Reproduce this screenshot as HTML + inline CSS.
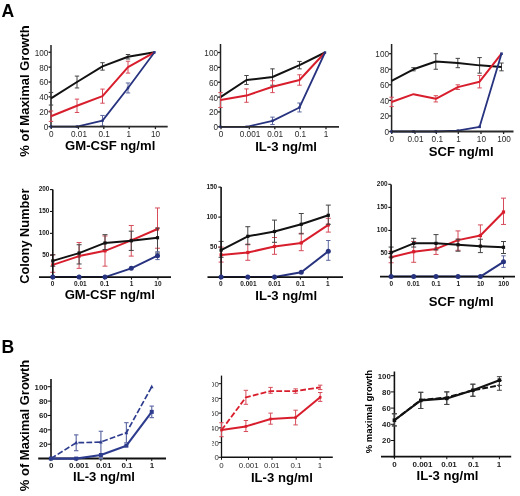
<!DOCTYPE html>
<html><head><meta charset="utf-8"><style>
html,body{margin:0;padding:0;background:#fff;}
svg{display:block;will-change:transform;font-family:"Liberation Sans", sans-serif;}
</style></head><body>
<svg width="520" height="496" viewBox="0 0 520 496">
<rect width="520" height="496" fill="#fff"/>
<line x1="48.50" y1="126.60" x2="51.00" y2="126.60" stroke="#222" stroke-width="1.3" />
<text x="48.30" y="130.05" font-size="8.2" text-anchor="end" font-weight="normal" fill="#2a2a2a" >0</text>
<line x1="48.50" y1="111.74" x2="51.00" y2="111.74" stroke="#222" stroke-width="1.3" />
<text x="48.30" y="115.19" font-size="8.2" text-anchor="end" font-weight="normal" fill="#2a2a2a" >20</text>
<line x1="48.50" y1="96.88" x2="51.00" y2="96.88" stroke="#222" stroke-width="1.3" />
<text x="48.30" y="100.33" font-size="8.2" text-anchor="end" font-weight="normal" fill="#2a2a2a" >40</text>
<line x1="48.50" y1="82.02" x2="51.00" y2="82.02" stroke="#222" stroke-width="1.3" />
<text x="48.30" y="85.47" font-size="8.2" text-anchor="end" font-weight="normal" fill="#2a2a2a" >60</text>
<line x1="48.50" y1="67.16" x2="51.00" y2="67.16" stroke="#222" stroke-width="1.3" />
<text x="48.30" y="70.61" font-size="8.2" text-anchor="end" font-weight="normal" fill="#2a2a2a" >80</text>
<line x1="48.50" y1="52.30" x2="51.00" y2="52.30" stroke="#222" stroke-width="1.3" />
<text x="48.30" y="55.75" font-size="8.2" text-anchor="end" font-weight="normal" fill="#2a2a2a" >100</text>
<line x1="51.20" y1="126.60" x2="51.20" y2="129.10" stroke="#222" stroke-width="1.3" />
<text x="51.20" y="136.80" font-size="8.2" text-anchor="middle" font-weight="normal" fill="#2a2a2a" >0</text>
<line x1="78.40" y1="126.60" x2="78.40" y2="129.10" stroke="#222" stroke-width="1.3" />
<text x="79.00" y="136.80" font-size="8.2" text-anchor="middle" font-weight="normal" fill="#2a2a2a" >0.01</text>
<line x1="103.80" y1="126.60" x2="103.80" y2="129.10" stroke="#222" stroke-width="1.3" />
<text x="104.20" y="136.80" font-size="8.2" text-anchor="middle" font-weight="normal" fill="#2a2a2a" >0.1</text>
<line x1="129.20" y1="126.60" x2="129.20" y2="129.10" stroke="#222" stroke-width="1.3" />
<text x="128.80" y="136.80" font-size="8.2" text-anchor="middle" font-weight="normal" fill="#2a2a2a" >1</text>
<line x1="155.40" y1="126.60" x2="155.40" y2="129.10" stroke="#222" stroke-width="1.3" />
<text x="155.60" y="136.80" font-size="8.2" text-anchor="middle" font-weight="normal" fill="#2a2a2a" >10</text>
<line x1="51.00" y1="45.00" x2="51.00" y2="127.50" stroke="#222" stroke-width="1.5" />
<line x1="51.00" y1="105.05" x2="51.00" y2="92.42" stroke="#444444" stroke-width="1" />
<line x1="48.80" y1="105.05" x2="53.20" y2="105.05" stroke="#444444" stroke-width="1" />
<line x1="48.80" y1="92.42" x2="53.20" y2="92.42" stroke="#444444" stroke-width="1" />
<line x1="77.00" y1="87.96" x2="77.00" y2="76.08" stroke="#444444" stroke-width="1" />
<line x1="74.80" y1="87.96" x2="79.20" y2="87.96" stroke="#444444" stroke-width="1" />
<line x1="74.80" y1="76.08" x2="79.20" y2="76.08" stroke="#444444" stroke-width="1" />
<line x1="102.50" y1="70.13" x2="102.50" y2="62.70" stroke="#444444" stroke-width="1" />
<line x1="100.30" y1="70.13" x2="104.70" y2="70.13" stroke="#444444" stroke-width="1" />
<line x1="100.30" y1="62.70" x2="104.70" y2="62.70" stroke="#444444" stroke-width="1" />
<line x1="128.00" y1="58.99" x2="128.00" y2="54.53" stroke="#444444" stroke-width="1" />
<line x1="125.80" y1="58.99" x2="130.20" y2="58.99" stroke="#444444" stroke-width="1" />
<line x1="125.80" y1="54.53" x2="130.20" y2="54.53" stroke="#444444" stroke-width="1" />
<path d="M51.00,98.37 L77.00,82.02 L102.50,66.42 L128.00,56.76 L154.50,52.30" fill="none" stroke="#121212" stroke-width="2" stroke-linejoin="round" />
<line x1="51.00" y1="121.40" x2="51.00" y2="111.00" stroke="#d64c5a" stroke-width="1" />
<line x1="48.80" y1="121.40" x2="53.20" y2="121.40" stroke="#d64c5a" stroke-width="1" />
<line x1="48.80" y1="111.00" x2="53.20" y2="111.00" stroke="#d64c5a" stroke-width="1" />
<line x1="77.00" y1="112.48" x2="77.00" y2="99.11" stroke="#d64c5a" stroke-width="1" />
<line x1="74.80" y1="112.48" x2="79.20" y2="112.48" stroke="#d64c5a" stroke-width="1" />
<line x1="74.80" y1="99.11" x2="79.20" y2="99.11" stroke="#d64c5a" stroke-width="1" />
<line x1="102.50" y1="103.20" x2="102.50" y2="89.08" stroke="#d64c5a" stroke-width="1" />
<line x1="100.30" y1="103.20" x2="104.70" y2="103.20" stroke="#d64c5a" stroke-width="1" />
<line x1="100.30" y1="89.08" x2="104.70" y2="89.08" stroke="#d64c5a" stroke-width="1" />
<line x1="128.00" y1="73.10" x2="128.00" y2="61.22" stroke="#d64c5a" stroke-width="1" />
<line x1="125.80" y1="73.10" x2="130.20" y2="73.10" stroke="#d64c5a" stroke-width="1" />
<line x1="125.80" y1="61.22" x2="130.20" y2="61.22" stroke="#d64c5a" stroke-width="1" />
<path d="M51.00,116.20 L77.00,105.80 L102.50,96.14 L128.00,67.16 L154.50,52.30" fill="none" stroke="#d81e2d" stroke-width="2" stroke-linejoin="round" />
<line x1="102.50" y1="125.86" x2="102.50" y2="115.45" stroke="#5d679f" stroke-width="1" />
<line x1="100.30" y1="125.86" x2="104.70" y2="125.86" stroke="#5d679f" stroke-width="1" />
<line x1="100.30" y1="115.45" x2="104.70" y2="115.45" stroke="#5d679f" stroke-width="1" />
<line x1="128.00" y1="92.94" x2="128.00" y2="82.99" stroke="#5d679f" stroke-width="1" />
<line x1="125.80" y1="92.94" x2="130.20" y2="92.94" stroke="#5d679f" stroke-width="1" />
<line x1="125.80" y1="82.99" x2="130.20" y2="82.99" stroke="#5d679f" stroke-width="1" />
<path d="M51.00,126.60 L77.00,126.60 L102.50,120.66 L128.00,87.96 L154.50,52.30" fill="none" stroke="#27337f" stroke-width="1.8" stroke-linejoin="round" />
<rect x="49.80" y="125.40" width="2.40" height="2.40" fill="#27337f"/>
<rect x="75.80" y="125.40" width="2.40" height="2.40" fill="#27337f"/>
<rect x="101.30" y="119.46" width="2.40" height="2.40" fill="#27337f"/>
<rect x="126.80" y="86.76" width="2.40" height="2.40" fill="#27337f"/>
<rect x="153.30" y="51.10" width="2.40" height="2.40" fill="#27337f"/>
<line x1="51.00" y1="126.60" x2="167.70" y2="126.60" stroke="#2a2a2a" stroke-width="1.8" />
<text x="110.20" y="149.80" font-size="13.1" text-anchor="middle" font-weight="bold" fill="#000" >GM-CSF ng/ml</text>
<line x1="218.00" y1="126.80" x2="220.50" y2="126.80" stroke="#222" stroke-width="1.3" />
<text x="218.00" y="130.25" font-size="8.2" text-anchor="end" font-weight="normal" fill="#2a2a2a" >0</text>
<line x1="218.00" y1="111.94" x2="220.50" y2="111.94" stroke="#222" stroke-width="1.3" />
<text x="218.00" y="115.39" font-size="8.2" text-anchor="end" font-weight="normal" fill="#2a2a2a" >20</text>
<line x1="218.00" y1="97.08" x2="220.50" y2="97.08" stroke="#222" stroke-width="1.3" />
<text x="218.00" y="100.53" font-size="8.2" text-anchor="end" font-weight="normal" fill="#2a2a2a" >40</text>
<line x1="218.00" y1="82.22" x2="220.50" y2="82.22" stroke="#222" stroke-width="1.3" />
<text x="218.00" y="85.67" font-size="8.2" text-anchor="end" font-weight="normal" fill="#2a2a2a" >60</text>
<line x1="218.00" y1="67.36" x2="220.50" y2="67.36" stroke="#222" stroke-width="1.3" />
<text x="218.00" y="70.81" font-size="8.2" text-anchor="end" font-weight="normal" fill="#2a2a2a" >80</text>
<line x1="218.00" y1="52.50" x2="220.50" y2="52.50" stroke="#222" stroke-width="1.3" />
<text x="218.00" y="55.95" font-size="8.2" text-anchor="end" font-weight="normal" fill="#2a2a2a" >100</text>
<line x1="221.00" y1="126.80" x2="221.00" y2="129.30" stroke="#222" stroke-width="1.3" />
<text x="221.00" y="137.00" font-size="8.2" text-anchor="middle" font-weight="normal" fill="#2a2a2a" >0</text>
<line x1="249.30" y1="126.80" x2="249.30" y2="129.30" stroke="#222" stroke-width="1.3" />
<text x="250.00" y="137.00" font-size="8.2" text-anchor="middle" font-weight="normal" fill="#2a2a2a" >0.001</text>
<line x1="274.80" y1="126.80" x2="274.80" y2="129.30" stroke="#222" stroke-width="1.3" />
<text x="275.10" y="137.00" font-size="8.2" text-anchor="middle" font-weight="normal" fill="#2a2a2a" >0.01</text>
<line x1="300.30" y1="126.80" x2="300.30" y2="129.30" stroke="#222" stroke-width="1.3" />
<text x="300.40" y="137.00" font-size="8.2" text-anchor="middle" font-weight="normal" fill="#2a2a2a" >0.1</text>
<line x1="326.00" y1="126.80" x2="326.00" y2="129.30" stroke="#222" stroke-width="1.3" />
<text x="326.00" y="137.00" font-size="8.2" text-anchor="middle" font-weight="normal" fill="#2a2a2a" >1</text>
<line x1="220.50" y1="44.00" x2="220.50" y2="127.70" stroke="#222" stroke-width="1.5" />
<line x1="246.50" y1="84.45" x2="246.50" y2="75.53" stroke="#444444" stroke-width="1" />
<line x1="244.30" y1="84.45" x2="248.70" y2="84.45" stroke="#444444" stroke-width="1" />
<line x1="244.30" y1="75.53" x2="248.70" y2="75.53" stroke="#444444" stroke-width="1" />
<line x1="272.50" y1="85.19" x2="272.50" y2="68.85" stroke="#444444" stroke-width="1" />
<line x1="270.30" y1="85.19" x2="274.70" y2="85.19" stroke="#444444" stroke-width="1" />
<line x1="270.30" y1="68.85" x2="274.70" y2="68.85" stroke="#444444" stroke-width="1" />
<line x1="299.50" y1="68.85" x2="299.50" y2="61.42" stroke="#444444" stroke-width="1" />
<line x1="297.30" y1="68.85" x2="301.70" y2="68.85" stroke="#444444" stroke-width="1" />
<line x1="297.30" y1="61.42" x2="301.70" y2="61.42" stroke="#444444" stroke-width="1" />
<path d="M220.50,97.08 L246.50,79.99 L272.50,77.02 L299.50,65.13 L325.00,52.50" fill="none" stroke="#121212" stroke-width="2" stroke-linejoin="round" />
<line x1="220.50" y1="107.48" x2="220.50" y2="92.62" stroke="#d64c5a" stroke-width="1" />
<line x1="218.30" y1="107.48" x2="222.70" y2="107.48" stroke="#d64c5a" stroke-width="1" />
<line x1="218.30" y1="92.62" x2="222.70" y2="92.62" stroke="#d64c5a" stroke-width="1" />
<line x1="246.50" y1="102.28" x2="246.50" y2="88.91" stroke="#d64c5a" stroke-width="1" />
<line x1="244.30" y1="102.28" x2="248.70" y2="102.28" stroke="#d64c5a" stroke-width="1" />
<line x1="244.30" y1="88.91" x2="248.70" y2="88.91" stroke="#d64c5a" stroke-width="1" />
<line x1="272.50" y1="92.62" x2="272.50" y2="80.73" stroke="#d64c5a" stroke-width="1" />
<line x1="270.30" y1="92.62" x2="274.70" y2="92.62" stroke="#d64c5a" stroke-width="1" />
<line x1="270.30" y1="80.73" x2="274.70" y2="80.73" stroke="#d64c5a" stroke-width="1" />
<line x1="299.50" y1="85.19" x2="299.50" y2="74.79" stroke="#d64c5a" stroke-width="1" />
<line x1="297.30" y1="85.19" x2="301.70" y2="85.19" stroke="#d64c5a" stroke-width="1" />
<line x1="297.30" y1="74.79" x2="301.70" y2="74.79" stroke="#d64c5a" stroke-width="1" />
<path d="M220.50,100.05 L246.50,95.59 L272.50,86.68 L299.50,79.99 L325.00,52.50" fill="none" stroke="#d81e2d" stroke-width="2" stroke-linejoin="round" />
<line x1="272.50" y1="124.57" x2="272.50" y2="117.14" stroke="#5d679f" stroke-width="1" />
<line x1="270.30" y1="124.57" x2="274.70" y2="124.57" stroke="#5d679f" stroke-width="1" />
<line x1="270.30" y1="117.14" x2="274.70" y2="117.14" stroke="#5d679f" stroke-width="1" />
<line x1="299.50" y1="111.94" x2="299.50" y2="103.02" stroke="#5d679f" stroke-width="1" />
<line x1="297.30" y1="111.94" x2="301.70" y2="111.94" stroke="#5d679f" stroke-width="1" />
<line x1="297.30" y1="103.02" x2="301.70" y2="103.02" stroke="#5d679f" stroke-width="1" />
<path d="M220.50,126.80 L246.50,126.80 L272.50,120.86 L299.50,107.48 L325.00,52.50" fill="none" stroke="#27337f" stroke-width="1.8" stroke-linejoin="round" />
<rect x="219.30" y="125.60" width="2.40" height="2.40" fill="#27337f"/>
<rect x="245.30" y="125.60" width="2.40" height="2.40" fill="#27337f"/>
<rect x="271.30" y="119.66" width="2.40" height="2.40" fill="#27337f"/>
<rect x="298.30" y="106.28" width="2.40" height="2.40" fill="#27337f"/>
<rect x="323.80" y="51.30" width="2.40" height="2.40" fill="#27337f"/>
<line x1="220.50" y1="126.80" x2="339.00" y2="126.80" stroke="#2a2a2a" stroke-width="1.8" />
<text x="286.10" y="151.30" font-size="13.1" text-anchor="middle" font-weight="bold" fill="#000" >IL-3 ng/ml</text>
<line x1="389.10" y1="131.50" x2="391.60" y2="131.50" stroke="#222" stroke-width="1.3" />
<text x="389.00" y="134.95" font-size="8.2" text-anchor="end" font-weight="normal" fill="#2a2a2a" >0</text>
<line x1="389.10" y1="115.94" x2="391.60" y2="115.94" stroke="#222" stroke-width="1.3" />
<text x="389.00" y="119.39" font-size="8.2" text-anchor="end" font-weight="normal" fill="#2a2a2a" >20</text>
<line x1="389.10" y1="100.38" x2="391.60" y2="100.38" stroke="#222" stroke-width="1.3" />
<text x="389.00" y="103.83" font-size="8.2" text-anchor="end" font-weight="normal" fill="#2a2a2a" >40</text>
<line x1="389.10" y1="84.82" x2="391.60" y2="84.82" stroke="#222" stroke-width="1.3" />
<text x="389.00" y="88.27" font-size="8.2" text-anchor="end" font-weight="normal" fill="#2a2a2a" >60</text>
<line x1="389.10" y1="69.26" x2="391.60" y2="69.26" stroke="#222" stroke-width="1.3" />
<text x="389.00" y="72.71" font-size="8.2" text-anchor="end" font-weight="normal" fill="#2a2a2a" >80</text>
<line x1="389.10" y1="53.70" x2="391.60" y2="53.70" stroke="#222" stroke-width="1.3" />
<text x="389.00" y="57.15" font-size="8.2" text-anchor="end" font-weight="normal" fill="#2a2a2a" >100</text>
<line x1="391.75" y1="131.50" x2="391.75" y2="134.00" stroke="#222" stroke-width="1.3" />
<text x="391.75" y="141.80" font-size="8.2" text-anchor="middle" font-weight="normal" fill="#2a2a2a" >0</text>
<line x1="415.00" y1="131.50" x2="415.00" y2="134.00" stroke="#222" stroke-width="1.3" />
<text x="415.50" y="141.80" font-size="8.2" text-anchor="middle" font-weight="normal" fill="#2a2a2a" >0.01</text>
<line x1="436.30" y1="131.50" x2="436.30" y2="134.00" stroke="#222" stroke-width="1.3" />
<text x="437.30" y="141.80" font-size="8.2" text-anchor="middle" font-weight="normal" fill="#2a2a2a" >0.1</text>
<line x1="458.30" y1="131.50" x2="458.30" y2="134.00" stroke="#222" stroke-width="1.3" />
<text x="458.50" y="141.80" font-size="8.2" text-anchor="middle" font-weight="normal" fill="#2a2a2a" >1</text>
<line x1="481.00" y1="131.50" x2="481.00" y2="134.00" stroke="#222" stroke-width="1.3" />
<text x="481.40" y="141.80" font-size="8.2" text-anchor="middle" font-weight="normal" fill="#2a2a2a" >10</text>
<line x1="503.60" y1="131.50" x2="503.60" y2="134.00" stroke="#222" stroke-width="1.3" />
<text x="504.10" y="141.80" font-size="8.2" text-anchor="middle" font-weight="normal" fill="#2a2a2a" >100</text>
<line x1="391.60" y1="44.00" x2="391.60" y2="132.40" stroke="#222" stroke-width="1.5" />
<line x1="413.50" y1="70.82" x2="413.50" y2="67.70" stroke="#444444" stroke-width="1" />
<line x1="411.30" y1="70.82" x2="415.70" y2="70.82" stroke="#444444" stroke-width="1" />
<line x1="411.30" y1="67.70" x2="415.70" y2="67.70" stroke="#444444" stroke-width="1" />
<line x1="435.80" y1="69.26" x2="435.80" y2="53.70" stroke="#444444" stroke-width="1" />
<line x1="433.60" y1="69.26" x2="438.00" y2="69.26" stroke="#444444" stroke-width="1" />
<line x1="433.60" y1="53.70" x2="438.00" y2="53.70" stroke="#444444" stroke-width="1" />
<line x1="457.80" y1="67.70" x2="457.80" y2="58.37" stroke="#444444" stroke-width="1" />
<line x1="455.60" y1="67.70" x2="460.00" y2="67.70" stroke="#444444" stroke-width="1" />
<line x1="455.60" y1="58.37" x2="460.00" y2="58.37" stroke="#444444" stroke-width="1" />
<line x1="479.60" y1="73.15" x2="479.60" y2="57.59" stroke="#444444" stroke-width="1" />
<line x1="477.40" y1="73.15" x2="481.80" y2="73.15" stroke="#444444" stroke-width="1" />
<line x1="477.40" y1="57.59" x2="481.80" y2="57.59" stroke="#444444" stroke-width="1" />
<line x1="501.50" y1="70.82" x2="501.50" y2="63.04" stroke="#444444" stroke-width="1" />
<line x1="499.30" y1="70.82" x2="503.70" y2="70.82" stroke="#444444" stroke-width="1" />
<line x1="499.30" y1="63.04" x2="503.70" y2="63.04" stroke="#444444" stroke-width="1" />
<path d="M391.60,80.93 L413.50,69.26 L435.80,61.48 L457.80,63.04 L479.60,65.37 L501.50,66.93" fill="none" stroke="#121212" stroke-width="2" stroke-linejoin="round" />
<line x1="391.60" y1="106.60" x2="391.60" y2="97.27" stroke="#d64c5a" stroke-width="1" />
<line x1="389.40" y1="106.60" x2="393.80" y2="106.60" stroke="#d64c5a" stroke-width="1" />
<line x1="389.40" y1="97.27" x2="393.80" y2="97.27" stroke="#d64c5a" stroke-width="1" />
<line x1="435.80" y1="101.94" x2="435.80" y2="95.71" stroke="#d64c5a" stroke-width="1" />
<line x1="433.60" y1="101.94" x2="438.00" y2="101.94" stroke="#d64c5a" stroke-width="1" />
<line x1="433.60" y1="95.71" x2="438.00" y2="95.71" stroke="#d64c5a" stroke-width="1" />
<line x1="457.80" y1="89.49" x2="457.80" y2="84.82" stroke="#d64c5a" stroke-width="1" />
<line x1="455.60" y1="89.49" x2="460.00" y2="89.49" stroke="#d64c5a" stroke-width="1" />
<line x1="455.60" y1="84.82" x2="460.00" y2="84.82" stroke="#d64c5a" stroke-width="1" />
<line x1="479.60" y1="87.93" x2="479.60" y2="75.48" stroke="#d64c5a" stroke-width="1" />
<line x1="477.40" y1="87.93" x2="481.80" y2="87.93" stroke="#d64c5a" stroke-width="1" />
<line x1="477.40" y1="75.48" x2="481.80" y2="75.48" stroke="#d64c5a" stroke-width="1" />
<path d="M391.60,101.94 L413.50,94.16 L435.80,98.82 L457.80,87.15 L479.60,81.71 L501.50,53.70" fill="none" stroke="#d81e2d" stroke-width="2" stroke-linejoin="round" />
<path d="M391.60,131.50 L413.50,131.50 L435.80,131.50 L457.80,130.72 L479.60,126.83 L501.50,53.70" fill="none" stroke="#27337f" stroke-width="1.8" stroke-linejoin="round" />
<rect x="390.30" y="130.20" width="2.60" height="2.60" fill="#27337f"/>
<rect x="412.20" y="130.20" width="2.60" height="2.60" fill="#27337f"/>
<rect x="434.50" y="130.20" width="2.60" height="2.60" fill="#27337f"/>
<rect x="456.50" y="129.42" width="2.60" height="2.60" fill="#27337f"/>
<rect x="478.30" y="125.53" width="2.60" height="2.60" fill="#27337f"/>
<rect x="500.20" y="52.40" width="2.60" height="2.60" fill="#27337f"/>
<line x1="391.60" y1="131.50" x2="513.50" y2="131.50" stroke="#2a2a2a" stroke-width="1.8" />
<text x="461.20" y="156.10" font-size="13.1" text-anchor="middle" font-weight="bold" fill="#000" >SCF ng/ml</text>
<line x1="50.00" y1="277.10" x2="52.80" y2="277.10" stroke="#111" stroke-width="1.1" />
<line x1="50.00" y1="255.23" x2="52.80" y2="255.23" stroke="#111" stroke-width="1.1" />
<text x="49.30" y="256.93" font-size="6.4" text-anchor="end" font-weight="bold" fill="#1a1a1a" >50</text>
<line x1="50.00" y1="233.35" x2="52.80" y2="233.35" stroke="#111" stroke-width="1.1" />
<text x="49.30" y="235.05" font-size="6.4" text-anchor="end" font-weight="bold" fill="#1a1a1a" >100</text>
<line x1="50.00" y1="211.48" x2="52.80" y2="211.48" stroke="#111" stroke-width="1.1" />
<text x="49.30" y="213.18" font-size="6.4" text-anchor="end" font-weight="bold" fill="#1a1a1a" >150</text>
<line x1="50.00" y1="189.60" x2="52.80" y2="189.60" stroke="#111" stroke-width="1.1" />
<text x="49.30" y="191.30" font-size="6.4" text-anchor="end" font-weight="bold" fill="#1a1a1a" >200</text>
<line x1="52.60" y1="277.10" x2="52.60" y2="279.60" stroke="#111" stroke-width="1.1" />
<text x="52.60" y="285.50" font-size="6.5" text-anchor="middle" font-weight="bold" fill="#1a1a1a" >0</text>
<line x1="80.30" y1="277.10" x2="80.30" y2="279.60" stroke="#111" stroke-width="1.1" />
<text x="80.30" y="285.50" font-size="6.5" text-anchor="middle" font-weight="bold" fill="#1a1a1a" >0.01</text>
<line x1="104.60" y1="277.10" x2="104.60" y2="279.60" stroke="#111" stroke-width="1.1" />
<text x="104.60" y="285.50" font-size="6.5" text-anchor="middle" font-weight="bold" fill="#1a1a1a" >0.1</text>
<line x1="131.50" y1="277.10" x2="131.50" y2="279.60" stroke="#111" stroke-width="1.1" />
<text x="131.50" y="285.50" font-size="6.5" text-anchor="middle" font-weight="bold" fill="#1a1a1a" >1</text>
<line x1="157.90" y1="277.10" x2="157.90" y2="279.60" stroke="#111" stroke-width="1.1" />
<text x="157.90" y="285.50" font-size="6.5" text-anchor="middle" font-weight="bold" fill="#1a1a1a" >10</text>
<line x1="52.80" y1="272.29" x2="52.80" y2="254.79" stroke="#d64c5a" stroke-width="1" />
<line x1="50.30" y1="272.29" x2="55.30" y2="272.29" stroke="#d64c5a" stroke-width="1" />
<line x1="50.30" y1="254.79" x2="55.30" y2="254.79" stroke="#d64c5a" stroke-width="1" />
<line x1="79.10" y1="268.35" x2="79.10" y2="242.54" stroke="#d64c5a" stroke-width="1" />
<line x1="76.60" y1="268.35" x2="81.60" y2="268.35" stroke="#d64c5a" stroke-width="1" />
<line x1="76.60" y1="242.54" x2="81.60" y2="242.54" stroke="#d64c5a" stroke-width="1" />
<line x1="105.00" y1="266.16" x2="105.00" y2="235.98" stroke="#d64c5a" stroke-width="1" />
<line x1="102.50" y1="266.16" x2="107.50" y2="266.16" stroke="#d64c5a" stroke-width="1" />
<line x1="102.50" y1="235.98" x2="107.50" y2="235.98" stroke="#d64c5a" stroke-width="1" />
<line x1="131.25" y1="256.10" x2="131.25" y2="225.48" stroke="#d64c5a" stroke-width="1" />
<line x1="128.75" y1="256.10" x2="133.75" y2="256.10" stroke="#d64c5a" stroke-width="1" />
<line x1="128.75" y1="225.48" x2="133.75" y2="225.48" stroke="#d64c5a" stroke-width="1" />
<line x1="157.50" y1="248.23" x2="157.50" y2="207.98" stroke="#d64c5a" stroke-width="1" />
<line x1="155.00" y1="248.23" x2="160.00" y2="248.23" stroke="#d64c5a" stroke-width="1" />
<line x1="155.00" y1="207.98" x2="160.00" y2="207.98" stroke="#d64c5a" stroke-width="1" />
<path d="M52.80,264.85 L79.10,256.10 L105.00,250.85 L131.25,240.35 L157.50,228.98" fill="none" stroke="#d81e2d" stroke-width="2" stroke-linejoin="round" />
<rect x="51.20" y="263.25" width="3.20" height="3.20" fill="#d81e2d"/>
<rect x="77.50" y="254.50" width="3.20" height="3.20" fill="#d81e2d"/>
<rect x="103.40" y="249.25" width="3.20" height="3.20" fill="#d81e2d"/>
<rect x="129.65" y="238.75" width="3.20" height="3.20" fill="#d81e2d"/>
<rect x="155.90" y="227.38" width="3.20" height="3.20" fill="#d81e2d"/>
<line x1="52.80" y1="266.16" x2="52.80" y2="254.79" stroke="#444444" stroke-width="1" />
<line x1="50.30" y1="266.16" x2="55.30" y2="266.16" stroke="#444444" stroke-width="1" />
<line x1="50.30" y1="254.79" x2="55.30" y2="254.79" stroke="#444444" stroke-width="1" />
<line x1="79.10" y1="263.98" x2="79.10" y2="244.73" stroke="#444444" stroke-width="1" />
<line x1="76.60" y1="263.98" x2="81.60" y2="263.98" stroke="#444444" stroke-width="1" />
<line x1="76.60" y1="244.73" x2="81.60" y2="244.73" stroke="#444444" stroke-width="1" />
<line x1="105.00" y1="249.54" x2="105.00" y2="234.66" stroke="#444444" stroke-width="1" />
<line x1="102.50" y1="249.54" x2="107.50" y2="249.54" stroke="#444444" stroke-width="1" />
<line x1="102.50" y1="234.66" x2="107.50" y2="234.66" stroke="#444444" stroke-width="1" />
<line x1="131.25" y1="250.41" x2="131.25" y2="231.16" stroke="#444444" stroke-width="1" />
<line x1="128.75" y1="250.41" x2="133.75" y2="250.41" stroke="#444444" stroke-width="1" />
<line x1="128.75" y1="231.16" x2="133.75" y2="231.16" stroke="#444444" stroke-width="1" />
<line x1="157.50" y1="253.04" x2="157.50" y2="228.10" stroke="#444444" stroke-width="1" />
<line x1="155.00" y1="253.04" x2="160.00" y2="253.04" stroke="#444444" stroke-width="1" />
<line x1="155.00" y1="228.10" x2="160.00" y2="228.10" stroke="#444444" stroke-width="1" />
<path d="M52.80,260.91 L79.10,253.04 L105.00,242.98 L131.25,240.79 L157.50,237.73" fill="none" stroke="#121212" stroke-width="1.9" stroke-linejoin="round" />
<rect x="51.20" y="259.31" width="3.20" height="3.20" fill="#121212"/>
<rect x="77.50" y="251.44" width="3.20" height="3.20" fill="#121212"/>
<rect x="103.40" y="241.38" width="3.20" height="3.20" fill="#121212"/>
<rect x="129.65" y="239.19" width="3.20" height="3.20" fill="#121212"/>
<rect x="155.90" y="236.13" width="3.20" height="3.20" fill="#121212"/>
<line x1="157.50" y1="259.60" x2="157.50" y2="251.73" stroke="#5d679f" stroke-width="1" />
<line x1="155.30" y1="259.60" x2="159.70" y2="259.60" stroke="#5d679f" stroke-width="1" />
<line x1="155.30" y1="251.73" x2="159.70" y2="251.73" stroke="#5d679f" stroke-width="1" />
<path d="M52.80,277.10 L79.10,277.10 L105.00,277.10 L131.25,268.35 L157.50,255.66" fill="none" stroke="#27337f" stroke-width="2" stroke-linejoin="round" />
<line x1="39.00" y1="277.10" x2="171.00" y2="277.10" stroke="#111" stroke-width="1.9" />
<line x1="52.80" y1="189.50" x2="52.80" y2="278.05" stroke="#111" stroke-width="1.6" />
<circle cx="52.80" cy="277.10" r="2.50" fill="#27337f"/>
<circle cx="79.10" cy="277.10" r="2.50" fill="#27337f"/>
<circle cx="105.00" cy="277.10" r="2.50" fill="#27337f"/>
<circle cx="131.25" cy="268.35" r="2.50" fill="#27337f"/>
<circle cx="157.50" cy="255.66" r="2.50" fill="#27337f"/>
<text x="109.75" y="299.20" font-size="13.1" text-anchor="middle" font-weight="bold" fill="#000" >GM-CSF ng/ml</text>
<text x="0" y="0" font-size="12.8" font-weight="bold" text-anchor="middle" fill="#000" transform="translate(29.00,236.20) rotate(-90)">Colony Number</text>
<line x1="218.30" y1="277.10" x2="221.10" y2="277.10" stroke="#111" stroke-width="1.1" />
<line x1="218.30" y1="247.10" x2="221.10" y2="247.10" stroke="#111" stroke-width="1.1" />
<text x="217.20" y="248.80" font-size="6.4" text-anchor="end" font-weight="bold" fill="#1a1a1a" >50</text>
<line x1="218.30" y1="217.10" x2="221.10" y2="217.10" stroke="#111" stroke-width="1.1" />
<text x="217.20" y="218.80" font-size="6.4" text-anchor="end" font-weight="bold" fill="#1a1a1a" >100</text>
<line x1="218.30" y1="187.10" x2="221.10" y2="187.10" stroke="#111" stroke-width="1.1" />
<text x="217.20" y="188.80" font-size="6.4" text-anchor="end" font-weight="bold" fill="#1a1a1a" >150</text>
<line x1="220.70" y1="277.10" x2="220.70" y2="279.60" stroke="#111" stroke-width="1.1" />
<text x="220.70" y="285.50" font-size="6.5" text-anchor="middle" font-weight="bold" fill="#1a1a1a" >0</text>
<line x1="248.40" y1="277.10" x2="248.40" y2="279.60" stroke="#111" stroke-width="1.1" />
<text x="248.40" y="285.50" font-size="6.5" text-anchor="middle" font-weight="bold" fill="#1a1a1a" >0.001</text>
<line x1="274.50" y1="277.10" x2="274.50" y2="279.60" stroke="#111" stroke-width="1.1" />
<text x="274.50" y="285.50" font-size="6.5" text-anchor="middle" font-weight="bold" fill="#1a1a1a" >0.01</text>
<line x1="300.40" y1="277.10" x2="300.40" y2="279.60" stroke="#111" stroke-width="1.1" />
<text x="300.40" y="285.50" font-size="6.5" text-anchor="middle" font-weight="bold" fill="#1a1a1a" >0.1</text>
<line x1="327.70" y1="277.10" x2="327.70" y2="279.60" stroke="#111" stroke-width="1.1" />
<text x="327.70" y="285.50" font-size="6.5" text-anchor="middle" font-weight="bold" fill="#1a1a1a" >1</text>
<line x1="221.10" y1="262.10" x2="221.10" y2="247.10" stroke="#d64c5a" stroke-width="1" />
<line x1="218.60" y1="262.10" x2="223.60" y2="262.10" stroke="#d64c5a" stroke-width="1" />
<line x1="218.60" y1="247.10" x2="223.60" y2="247.10" stroke="#d64c5a" stroke-width="1" />
<line x1="247.80" y1="260.30" x2="247.80" y2="244.10" stroke="#d64c5a" stroke-width="1" />
<line x1="245.30" y1="260.30" x2="250.30" y2="260.30" stroke="#d64c5a" stroke-width="1" />
<line x1="245.30" y1="244.10" x2="250.30" y2="244.10" stroke="#d64c5a" stroke-width="1" />
<line x1="274.50" y1="254.30" x2="274.50" y2="237.50" stroke="#d64c5a" stroke-width="1" />
<line x1="272.00" y1="254.30" x2="277.00" y2="254.30" stroke="#d64c5a" stroke-width="1" />
<line x1="272.00" y1="237.50" x2="277.00" y2="237.50" stroke="#d64c5a" stroke-width="1" />
<line x1="301.25" y1="250.70" x2="301.25" y2="233.30" stroke="#d64c5a" stroke-width="1" />
<line x1="298.75" y1="250.70" x2="303.75" y2="250.70" stroke="#d64c5a" stroke-width="1" />
<line x1="298.75" y1="233.30" x2="303.75" y2="233.30" stroke="#d64c5a" stroke-width="1" />
<line x1="328.30" y1="232.10" x2="328.30" y2="218.30" stroke="#d64c5a" stroke-width="1" />
<line x1="325.80" y1="232.10" x2="330.80" y2="232.10" stroke="#d64c5a" stroke-width="1" />
<line x1="325.80" y1="218.30" x2="330.80" y2="218.30" stroke="#d64c5a" stroke-width="1" />
<path d="M221.10,254.90 L247.80,252.50 L274.50,246.50 L301.25,242.90 L328.30,224.90" fill="none" stroke="#d81e2d" stroke-width="2" stroke-linejoin="round" />
<rect x="219.50" y="253.30" width="3.20" height="3.20" fill="#d81e2d"/>
<rect x="246.20" y="250.90" width="3.20" height="3.20" fill="#d81e2d"/>
<rect x="272.90" y="244.90" width="3.20" height="3.20" fill="#d81e2d"/>
<rect x="299.65" y="241.30" width="3.20" height="3.20" fill="#d81e2d"/>
<rect x="326.70" y="223.30" width="3.20" height="3.20" fill="#d81e2d"/>
<line x1="221.10" y1="257.30" x2="221.10" y2="241.40" stroke="#444444" stroke-width="1" />
<line x1="218.60" y1="257.30" x2="223.60" y2="257.30" stroke="#444444" stroke-width="1" />
<line x1="218.60" y1="241.40" x2="223.60" y2="241.40" stroke="#444444" stroke-width="1" />
<line x1="247.80" y1="244.70" x2="247.80" y2="226.70" stroke="#444444" stroke-width="1" />
<line x1="245.30" y1="244.70" x2="250.30" y2="244.70" stroke="#444444" stroke-width="1" />
<line x1="245.30" y1="226.70" x2="250.30" y2="226.70" stroke="#444444" stroke-width="1" />
<line x1="274.50" y1="242.30" x2="274.50" y2="220.10" stroke="#444444" stroke-width="1" />
<line x1="272.00" y1="242.30" x2="277.00" y2="242.30" stroke="#444444" stroke-width="1" />
<line x1="272.00" y1="220.10" x2="277.00" y2="220.10" stroke="#444444" stroke-width="1" />
<line x1="301.25" y1="233.90" x2="301.25" y2="213.50" stroke="#444444" stroke-width="1" />
<line x1="298.75" y1="233.90" x2="303.75" y2="233.90" stroke="#444444" stroke-width="1" />
<line x1="298.75" y1="213.50" x2="303.75" y2="213.50" stroke="#444444" stroke-width="1" />
<line x1="328.30" y1="224.30" x2="328.30" y2="205.10" stroke="#444444" stroke-width="1" />
<line x1="325.80" y1="224.30" x2="330.80" y2="224.30" stroke="#444444" stroke-width="1" />
<line x1="325.80" y1="205.10" x2="330.80" y2="205.10" stroke="#444444" stroke-width="1" />
<path d="M221.10,250.10 L247.80,236.30 L274.50,231.50 L301.25,224.30 L328.30,215.30" fill="none" stroke="#121212" stroke-width="2" stroke-linejoin="round" />
<rect x="219.50" y="248.50" width="3.20" height="3.20" fill="#121212"/>
<rect x="246.20" y="234.70" width="3.20" height="3.20" fill="#121212"/>
<rect x="272.90" y="229.90" width="3.20" height="3.20" fill="#121212"/>
<rect x="299.65" y="222.70" width="3.20" height="3.20" fill="#121212"/>
<rect x="326.70" y="213.70" width="3.20" height="3.20" fill="#121212"/>
<line x1="328.30" y1="260.30" x2="328.30" y2="240.50" stroke="#5d679f" stroke-width="1" />
<line x1="326.10" y1="260.30" x2="330.50" y2="260.30" stroke="#5d679f" stroke-width="1" />
<line x1="326.10" y1="240.50" x2="330.50" y2="240.50" stroke="#5d679f" stroke-width="1" />
<path d="M221.10,277.10 L247.80,277.10 L274.50,277.10 L301.25,272.30 L328.30,251.30" fill="none" stroke="#27337f" stroke-width="2" stroke-linejoin="round" />
<line x1="207.50" y1="277.10" x2="343.00" y2="277.10" stroke="#111" stroke-width="1.9" />
<line x1="221.10" y1="186.90" x2="221.10" y2="278.05" stroke="#111" stroke-width="1.6" />
<circle cx="221.10" cy="277.10" r="2.50" fill="#27337f"/>
<circle cx="247.80" cy="277.10" r="2.50" fill="#27337f"/>
<circle cx="274.50" cy="277.10" r="2.50" fill="#27337f"/>
<circle cx="301.25" cy="272.30" r="2.50" fill="#27337f"/>
<circle cx="328.30" cy="251.30" r="2.50" fill="#27337f"/>
<text x="286.20" y="299.60" font-size="13.1" text-anchor="middle" font-weight="bold" fill="#000" >IL-3 ng/ml</text>
<line x1="388.30" y1="276.60" x2="391.10" y2="276.60" stroke="#111" stroke-width="1.1" />
<line x1="388.30" y1="253.53" x2="391.10" y2="253.53" stroke="#111" stroke-width="1.1" />
<text x="387.50" y="255.23" font-size="6.4" text-anchor="end" font-weight="bold" fill="#1a1a1a" >50</text>
<line x1="388.30" y1="230.45" x2="391.10" y2="230.45" stroke="#111" stroke-width="1.1" />
<text x="387.50" y="232.15" font-size="6.4" text-anchor="end" font-weight="bold" fill="#1a1a1a" >100</text>
<line x1="388.30" y1="207.38" x2="391.10" y2="207.38" stroke="#111" stroke-width="1.1" />
<text x="387.50" y="209.08" font-size="6.4" text-anchor="end" font-weight="bold" fill="#1a1a1a" >150</text>
<line x1="388.30" y1="184.30" x2="391.10" y2="184.30" stroke="#111" stroke-width="1.1" />
<text x="387.50" y="186.00" font-size="6.4" text-anchor="end" font-weight="bold" fill="#1a1a1a" >200</text>
<line x1="391.25" y1="276.60" x2="391.25" y2="279.10" stroke="#111" stroke-width="1.1" />
<text x="391.25" y="285.50" font-size="6.5" text-anchor="middle" font-weight="bold" fill="#1a1a1a" >0</text>
<line x1="413.40" y1="276.60" x2="413.40" y2="279.10" stroke="#111" stroke-width="1.1" />
<text x="413.40" y="285.50" font-size="6.5" text-anchor="middle" font-weight="bold" fill="#1a1a1a" >0.01</text>
<line x1="436.00" y1="276.60" x2="436.00" y2="279.10" stroke="#111" stroke-width="1.1" />
<text x="436.00" y="285.50" font-size="6.5" text-anchor="middle" font-weight="bold" fill="#1a1a1a" >0.1</text>
<line x1="458.25" y1="276.60" x2="458.25" y2="279.10" stroke="#111" stroke-width="1.1" />
<text x="458.25" y="285.50" font-size="6.5" text-anchor="middle" font-weight="bold" fill="#1a1a1a" >1</text>
<line x1="480.60" y1="276.60" x2="480.60" y2="279.10" stroke="#111" stroke-width="1.1" />
<text x="480.60" y="285.50" font-size="6.5" text-anchor="middle" font-weight="bold" fill="#1a1a1a" >10</text>
<line x1="503.60" y1="276.60" x2="503.60" y2="279.10" stroke="#111" stroke-width="1.1" />
<text x="503.60" y="285.50" font-size="6.5" text-anchor="middle" font-weight="bold" fill="#1a1a1a" >100</text>
<line x1="391.10" y1="262.75" x2="391.10" y2="251.22" stroke="#d64c5a" stroke-width="1" />
<line x1="388.60" y1="262.75" x2="393.60" y2="262.75" stroke="#d64c5a" stroke-width="1" />
<line x1="388.60" y1="251.22" x2="393.60" y2="251.22" stroke="#d64c5a" stroke-width="1" />
<line x1="413.70" y1="262.29" x2="413.70" y2="241.53" stroke="#d64c5a" stroke-width="1" />
<line x1="411.20" y1="262.29" x2="416.20" y2="262.29" stroke="#d64c5a" stroke-width="1" />
<line x1="411.20" y1="241.53" x2="416.20" y2="241.53" stroke="#d64c5a" stroke-width="1" />
<line x1="436.00" y1="254.45" x2="436.00" y2="243.37" stroke="#d64c5a" stroke-width="1" />
<line x1="433.50" y1="254.45" x2="438.50" y2="254.45" stroke="#d64c5a" stroke-width="1" />
<line x1="433.50" y1="243.37" x2="438.50" y2="243.37" stroke="#d64c5a" stroke-width="1" />
<line x1="458.00" y1="250.29" x2="458.00" y2="230.91" stroke="#d64c5a" stroke-width="1" />
<line x1="455.50" y1="250.29" x2="460.50" y2="250.29" stroke="#d64c5a" stroke-width="1" />
<line x1="455.50" y1="230.91" x2="460.50" y2="230.91" stroke="#d64c5a" stroke-width="1" />
<line x1="480.40" y1="246.60" x2="480.40" y2="224.91" stroke="#d64c5a" stroke-width="1" />
<line x1="477.90" y1="246.60" x2="482.90" y2="246.60" stroke="#d64c5a" stroke-width="1" />
<line x1="477.90" y1="224.91" x2="482.90" y2="224.91" stroke="#d64c5a" stroke-width="1" />
<line x1="503.50" y1="224.45" x2="503.50" y2="198.15" stroke="#d64c5a" stroke-width="1" />
<line x1="501.00" y1="224.45" x2="506.00" y2="224.45" stroke="#d64c5a" stroke-width="1" />
<line x1="501.00" y1="198.15" x2="506.00" y2="198.15" stroke="#d64c5a" stroke-width="1" />
<path d="M391.10,257.22 L413.70,251.68 L436.00,248.91 L458.00,240.14 L480.40,235.53 L503.50,211.99" fill="none" stroke="#d81e2d" stroke-width="2" stroke-linejoin="round" />
<rect x="389.50" y="255.62" width="3.20" height="3.20" fill="#d81e2d"/>
<rect x="412.10" y="250.08" width="3.20" height="3.20" fill="#d81e2d"/>
<rect x="434.40" y="247.31" width="3.20" height="3.20" fill="#d81e2d"/>
<rect x="456.40" y="238.54" width="3.20" height="3.20" fill="#d81e2d"/>
<rect x="478.80" y="233.93" width="3.20" height="3.20" fill="#d81e2d"/>
<rect x="501.90" y="210.39" width="3.20" height="3.20" fill="#d81e2d"/>
<line x1="391.10" y1="257.22" x2="391.10" y2="247.06" stroke="#444444" stroke-width="1" />
<line x1="388.60" y1="257.22" x2="393.60" y2="257.22" stroke="#444444" stroke-width="1" />
<line x1="388.60" y1="247.06" x2="393.60" y2="247.06" stroke="#444444" stroke-width="1" />
<line x1="413.70" y1="247.06" x2="413.70" y2="238.30" stroke="#444444" stroke-width="1" />
<line x1="411.20" y1="247.06" x2="416.20" y2="247.06" stroke="#444444" stroke-width="1" />
<line x1="411.20" y1="238.30" x2="416.20" y2="238.30" stroke="#444444" stroke-width="1" />
<line x1="436.00" y1="249.83" x2="436.00" y2="234.60" stroke="#444444" stroke-width="1" />
<line x1="433.50" y1="249.83" x2="438.50" y2="249.83" stroke="#444444" stroke-width="1" />
<line x1="433.50" y1="234.60" x2="438.50" y2="234.60" stroke="#444444" stroke-width="1" />
<line x1="458.00" y1="251.22" x2="458.00" y2="239.22" stroke="#444444" stroke-width="1" />
<line x1="455.50" y1="251.22" x2="460.50" y2="251.22" stroke="#444444" stroke-width="1" />
<line x1="455.50" y1="239.22" x2="460.50" y2="239.22" stroke="#444444" stroke-width="1" />
<line x1="480.40" y1="252.60" x2="480.40" y2="239.22" stroke="#444444" stroke-width="1" />
<line x1="477.90" y1="252.60" x2="482.90" y2="252.60" stroke="#444444" stroke-width="1" />
<line x1="477.90" y1="239.22" x2="482.90" y2="239.22" stroke="#444444" stroke-width="1" />
<line x1="503.50" y1="253.53" x2="503.50" y2="241.53" stroke="#444444" stroke-width="1" />
<line x1="501.00" y1="253.53" x2="506.00" y2="253.53" stroke="#444444" stroke-width="1" />
<line x1="501.00" y1="241.53" x2="506.00" y2="241.53" stroke="#444444" stroke-width="1" />
<path d="M391.10,252.60 L413.70,243.37 L436.00,243.37 L458.00,244.76 L480.40,246.14 L503.50,247.29" fill="none" stroke="#121212" stroke-width="2" stroke-linejoin="round" />
<rect x="389.50" y="251.00" width="3.20" height="3.20" fill="#121212"/>
<rect x="412.10" y="241.77" width="3.20" height="3.20" fill="#121212"/>
<rect x="434.40" y="241.77" width="3.20" height="3.20" fill="#121212"/>
<rect x="456.40" y="243.16" width="3.20" height="3.20" fill="#121212"/>
<rect x="478.80" y="244.54" width="3.20" height="3.20" fill="#121212"/>
<rect x="501.90" y="245.69" width="3.20" height="3.20" fill="#121212"/>
<line x1="503.50" y1="267.37" x2="503.50" y2="255.83" stroke="#5d679f" stroke-width="1" />
<line x1="501.30" y1="267.37" x2="505.70" y2="267.37" stroke="#5d679f" stroke-width="1" />
<line x1="501.30" y1="255.83" x2="505.70" y2="255.83" stroke="#5d679f" stroke-width="1" />
<path d="M391.10,276.60 L413.70,276.60 L436.00,276.60 L458.00,276.60 L480.40,276.60 L503.50,261.83" fill="none" stroke="#27337f" stroke-width="2" stroke-linejoin="round" />
<line x1="380.00" y1="276.60" x2="515.00" y2="276.60" stroke="#111" stroke-width="1.9" />
<line x1="391.10" y1="184.40" x2="391.10" y2="277.55" stroke="#111" stroke-width="1.6" />
<circle cx="391.10" cy="276.60" r="2.50" fill="#27337f"/>
<circle cx="413.70" cy="276.60" r="2.50" fill="#27337f"/>
<circle cx="436.00" cy="276.60" r="2.50" fill="#27337f"/>
<circle cx="458.00" cy="276.60" r="2.50" fill="#27337f"/>
<circle cx="480.40" cy="276.60" r="2.50" fill="#27337f"/>
<circle cx="503.50" cy="261.83" r="2.50" fill="#27337f"/>
<text x="461.20" y="305.70" font-size="13.1" text-anchor="middle" font-weight="bold" fill="#000" >SCF ng/ml</text>
<line x1="47.60" y1="458.60" x2="51.00" y2="458.60" stroke="#111" stroke-width="1" />
<line x1="47.60" y1="444.22" x2="51.00" y2="444.22" stroke="#111" stroke-width="1" />
<text x="47.60" y="447.03" font-size="7.8" text-anchor="end" font-weight="bold" fill="#222" >20</text>
<line x1="47.60" y1="429.84" x2="51.00" y2="429.84" stroke="#111" stroke-width="1" />
<text x="47.60" y="432.65" font-size="7.8" text-anchor="end" font-weight="bold" fill="#222" >40</text>
<line x1="47.60" y1="415.46" x2="51.00" y2="415.46" stroke="#111" stroke-width="1" />
<text x="47.60" y="418.27" font-size="7.8" text-anchor="end" font-weight="bold" fill="#222" >60</text>
<line x1="47.60" y1="401.08" x2="51.00" y2="401.08" stroke="#111" stroke-width="1" />
<text x="47.60" y="403.89" font-size="7.8" text-anchor="end" font-weight="bold" fill="#222" >80</text>
<line x1="47.60" y1="386.70" x2="51.00" y2="386.70" stroke="#111" stroke-width="1" />
<text x="47.60" y="389.51" font-size="7.8" text-anchor="end" font-weight="bold" fill="#222" >100</text>
<line x1="50.90" y1="458.60" x2="50.90" y2="461.10" stroke="#111" stroke-width="1" />
<text x="51.20" y="468.40" font-size="8.0" text-anchor="middle" font-weight="bold" fill="#222" >0</text>
<line x1="76.20" y1="458.60" x2="76.20" y2="461.10" stroke="#111" stroke-width="1" />
<text x="79.00" y="468.40" font-size="8.0" text-anchor="middle" font-weight="bold" fill="#222" >0.001</text>
<line x1="100.90" y1="458.60" x2="100.90" y2="461.10" stroke="#111" stroke-width="1" />
<text x="103.70" y="468.40" font-size="8.0" text-anchor="middle" font-weight="bold" fill="#222" >0.01</text>
<line x1="126.40" y1="458.60" x2="126.40" y2="461.10" stroke="#111" stroke-width="1" />
<text x="127.00" y="468.40" font-size="8.0" text-anchor="middle" font-weight="bold" fill="#222" >0.1</text>
<line x1="151.75" y1="458.60" x2="151.75" y2="461.10" stroke="#111" stroke-width="1" />
<text x="152.00" y="468.40" font-size="8.0" text-anchor="middle" font-weight="bold" fill="#222" >1</text>
<line x1="51.00" y1="379.00" x2="51.00" y2="459.60" stroke="#111" stroke-width="1.6" />
<line x1="38.20" y1="458.60" x2="166.00" y2="458.60" stroke="#111" stroke-width="2.0" />
<line x1="76.20" y1="450.69" x2="76.20" y2="434.87" stroke="#6570a8" stroke-width="1.2" />
<line x1="74.00" y1="450.69" x2="78.40" y2="450.69" stroke="#6570a8" stroke-width="1.2" />
<line x1="74.00" y1="434.87" x2="78.40" y2="434.87" stroke="#6570a8" stroke-width="1.2" />
<line x1="100.90" y1="458.60" x2="100.90" y2="431.28" stroke="#6570a8" stroke-width="1.2" />
<line x1="98.70" y1="458.60" x2="103.10" y2="458.60" stroke="#6570a8" stroke-width="1.2" />
<line x1="98.70" y1="431.28" x2="103.10" y2="431.28" stroke="#6570a8" stroke-width="1.2" />
<line x1="126.40" y1="442.78" x2="126.40" y2="422.65" stroke="#6570a8" stroke-width="1.2" />
<line x1="124.20" y1="442.78" x2="128.60" y2="442.78" stroke="#6570a8" stroke-width="1.2" />
<line x1="124.20" y1="422.65" x2="128.60" y2="422.65" stroke="#6570a8" stroke-width="1.2" />
<path d="M50.90,458.60 L76.20,442.78 L100.90,442.06 L126.40,432.72 L151.75,386.70" fill="none" stroke="#2e3c8e" stroke-width="1.7" stroke-linejoin="round" stroke-dasharray="5.8,2.2"/>
<path d="M50.90,456.44 L52.70,460.04 L49.10,460.04Z" fill="#2e3c8e"/>
<path d="M76.20,440.62 L78.00,444.22 L74.40,444.22Z" fill="#2e3c8e"/>
<path d="M100.90,439.90 L102.70,443.50 L99.10,443.50Z" fill="#2e3c8e"/>
<path d="M126.40,430.56 L128.20,434.16 L124.60,434.16Z" fill="#2e3c8e"/>
<path d="M151.75,384.54 L153.55,388.14 L149.95,388.14Z" fill="#2e3c8e"/>
<line x1="151.75" y1="417.62" x2="151.75" y2="406.11" stroke="#6570a8" stroke-width="1.2" />
<line x1="149.55" y1="417.62" x2="153.95" y2="417.62" stroke="#6570a8" stroke-width="1.2" />
<line x1="149.55" y1="406.11" x2="153.95" y2="406.11" stroke="#6570a8" stroke-width="1.2" />
<path d="M50.90,458.60 L76.20,458.60 L100.90,455.00 L126.40,445.66 L151.75,411.87" fill="none" stroke="#2e3c8e" stroke-width="2.1" stroke-linejoin="round" />
<rect x="48.90" y="456.60" width="4.00" height="4.00" fill="#2e3c8e"/>
<rect x="74.20" y="456.60" width="4.00" height="4.00" fill="#2e3c8e"/>
<rect x="98.90" y="453.00" width="4.00" height="4.00" fill="#2e3c8e"/>
<rect x="124.40" y="443.66" width="4.00" height="4.00" fill="#2e3c8e"/>
<rect x="149.75" y="409.87" width="4.00" height="4.00" fill="#2e3c8e"/>
<text x="104.00" y="480.80" font-size="13.1" text-anchor="middle" font-weight="bold" fill="#000" >IL-3 ng/ml</text>
<text x="0" y="0" font-size="13" font-weight="bold" text-anchor="middle" fill="#000" transform="translate(28.60,425.50) rotate(-90)">% of Maximal Growth</text>
<line x1="218.50" y1="457.30" x2="221.50" y2="457.30" stroke="#111" stroke-width="1" />
<text x="218.80" y="460.41" font-size="7.8" text-anchor="end" font-weight="normal" fill="#333" >0</text>
<line x1="218.50" y1="442.58" x2="221.50" y2="442.58" stroke="#111" stroke-width="1" />
<text x="218.80" y="445.69" font-size="7.8" text-anchor="end" font-weight="normal" fill="#333" >20</text>
<line x1="218.50" y1="427.86" x2="221.50" y2="427.86" stroke="#111" stroke-width="1" />
<text x="218.80" y="430.97" font-size="7.8" text-anchor="end" font-weight="normal" fill="#333" >40</text>
<line x1="218.50" y1="413.14" x2="221.50" y2="413.14" stroke="#111" stroke-width="1" />
<text x="218.80" y="416.25" font-size="7.8" text-anchor="end" font-weight="normal" fill="#333" >60</text>
<line x1="218.50" y1="398.42" x2="221.50" y2="398.42" stroke="#111" stroke-width="1" />
<text x="218.80" y="401.53" font-size="7.8" text-anchor="end" font-weight="normal" fill="#333" >80</text>
<line x1="218.50" y1="383.70" x2="221.50" y2="383.70" stroke="#111" stroke-width="1" />
<text x="218.80" y="386.81" font-size="7.8" text-anchor="end" font-weight="normal" fill="#333" >100</text>
<line x1="221.50" y1="457.30" x2="221.50" y2="459.80" stroke="#111" stroke-width="1" />
<text x="221.50" y="467.60" font-size="7.9" text-anchor="middle" font-weight="normal" fill="#2a2a2a" >0</text>
<line x1="248.50" y1="457.30" x2="248.50" y2="459.80" stroke="#111" stroke-width="1" />
<text x="248.70" y="467.60" font-size="7.9" text-anchor="middle" font-weight="normal" fill="#2a2a2a" >0.001</text>
<line x1="272.00" y1="457.30" x2="272.00" y2="459.80" stroke="#111" stroke-width="1" />
<text x="271.80" y="467.60" font-size="7.9" text-anchor="middle" font-weight="normal" fill="#2a2a2a" >0.01</text>
<line x1="296.20" y1="457.30" x2="296.20" y2="459.80" stroke="#111" stroke-width="1" />
<text x="295.90" y="467.60" font-size="7.9" text-anchor="middle" font-weight="normal" fill="#2a2a2a" >0.1</text>
<line x1="320.20" y1="457.30" x2="320.20" y2="459.80" stroke="#111" stroke-width="1" />
<text x="320.00" y="467.60" font-size="7.9" text-anchor="middle" font-weight="normal" fill="#2a2a2a" >1</text>
<line x1="221.50" y1="375.60" x2="221.50" y2="458.10" stroke="#111" stroke-width="1.3" />
<line x1="221.50" y1="457.30" x2="332.80" y2="457.30" stroke="#111" stroke-width="1.6" />
<line x1="245.90" y1="404.31" x2="245.90" y2="390.32" stroke="#d64c5a" stroke-width="1" />
<line x1="243.70" y1="404.31" x2="248.10" y2="404.31" stroke="#d64c5a" stroke-width="1" />
<line x1="243.70" y1="390.32" x2="248.10" y2="390.32" stroke="#d64c5a" stroke-width="1" />
<line x1="270.60" y1="393.27" x2="270.60" y2="387.38" stroke="#d64c5a" stroke-width="1" />
<line x1="268.40" y1="393.27" x2="272.80" y2="393.27" stroke="#d64c5a" stroke-width="1" />
<line x1="268.40" y1="387.38" x2="272.80" y2="387.38" stroke="#d64c5a" stroke-width="1" />
<line x1="295.60" y1="393.27" x2="295.60" y2="388.85" stroke="#d64c5a" stroke-width="1" />
<line x1="293.40" y1="393.27" x2="297.80" y2="393.27" stroke="#d64c5a" stroke-width="1" />
<line x1="293.40" y1="388.85" x2="297.80" y2="388.85" stroke="#d64c5a" stroke-width="1" />
<line x1="320.20" y1="389.59" x2="320.20" y2="385.17" stroke="#d64c5a" stroke-width="1" />
<line x1="318.00" y1="389.59" x2="322.40" y2="389.59" stroke="#d64c5a" stroke-width="1" />
<line x1="318.00" y1="385.17" x2="322.40" y2="385.17" stroke="#d64c5a" stroke-width="1" />
<path d="M221.50,430.07 L245.90,397.32 L270.60,391.06 L295.60,391.06 L320.20,387.38" fill="none" stroke="#d81e2d" stroke-width="1.8" stroke-linejoin="round" stroke-dasharray="5.8,2.2"/>
<line x1="221.50" y1="436.69" x2="221.50" y2="422.71" stroke="#d64c5a" stroke-width="1" />
<line x1="219.30" y1="436.69" x2="223.70" y2="436.69" stroke="#d64c5a" stroke-width="1" />
<line x1="219.30" y1="422.71" x2="223.70" y2="422.71" stroke="#d64c5a" stroke-width="1" />
<line x1="245.90" y1="431.54" x2="245.90" y2="420.50" stroke="#d64c5a" stroke-width="1" />
<line x1="243.70" y1="431.54" x2="248.10" y2="431.54" stroke="#d64c5a" stroke-width="1" />
<line x1="243.70" y1="420.50" x2="248.10" y2="420.50" stroke="#d64c5a" stroke-width="1" />
<line x1="270.60" y1="424.18" x2="270.60" y2="413.14" stroke="#d64c5a" stroke-width="1" />
<line x1="268.40" y1="424.18" x2="272.80" y2="424.18" stroke="#d64c5a" stroke-width="1" />
<line x1="268.40" y1="413.14" x2="272.80" y2="413.14" stroke="#d64c5a" stroke-width="1" />
<line x1="295.60" y1="424.92" x2="295.60" y2="410.20" stroke="#d64c5a" stroke-width="1" />
<line x1="293.40" y1="424.92" x2="297.80" y2="424.92" stroke="#d64c5a" stroke-width="1" />
<line x1="293.40" y1="410.20" x2="297.80" y2="410.20" stroke="#d64c5a" stroke-width="1" />
<line x1="320.20" y1="401.36" x2="320.20" y2="392.53" stroke="#d64c5a" stroke-width="1" />
<line x1="318.00" y1="401.36" x2="322.40" y2="401.36" stroke="#d64c5a" stroke-width="1" />
<line x1="318.00" y1="392.53" x2="322.40" y2="392.53" stroke="#d64c5a" stroke-width="1" />
<path d="M221.50,430.07 L245.90,426.39 L270.60,419.03 L295.60,417.56 L320.20,397.32" fill="none" stroke="#d81e2d" stroke-width="2" stroke-linejoin="round" />
<rect x="220.20" y="428.77" width="2.60" height="2.60" fill="#d81e2d"/>
<rect x="244.60" y="425.09" width="2.60" height="2.60" fill="#d81e2d"/>
<rect x="269.30" y="417.73" width="2.60" height="2.60" fill="#d81e2d"/>
<rect x="294.30" y="416.26" width="2.60" height="2.60" fill="#d81e2d"/>
<rect x="318.90" y="396.02" width="2.60" height="2.60" fill="#d81e2d"/>
<text x="281.90" y="481.50" font-size="13.1" text-anchor="middle" font-weight="bold" fill="#000" >IL-3 ng/ml</text>
<line x1="390.80" y1="456.70" x2="394.40" y2="456.70" stroke="#111" stroke-width="1" />
<line x1="390.80" y1="440.50" x2="394.40" y2="440.50" stroke="#111" stroke-width="1" />
<text x="390.80" y="443.41" font-size="7.8" text-anchor="end" font-weight="bold" fill="#222" >20</text>
<line x1="390.80" y1="424.30" x2="394.40" y2="424.30" stroke="#111" stroke-width="1" />
<text x="390.80" y="427.21" font-size="7.8" text-anchor="end" font-weight="bold" fill="#222" >40</text>
<line x1="390.80" y1="408.10" x2="394.40" y2="408.10" stroke="#111" stroke-width="1" />
<text x="390.80" y="411.01" font-size="7.8" text-anchor="end" font-weight="bold" fill="#222" >60</text>
<line x1="390.80" y1="391.90" x2="394.40" y2="391.90" stroke="#111" stroke-width="1" />
<text x="390.80" y="394.81" font-size="7.8" text-anchor="end" font-weight="bold" fill="#222" >80</text>
<line x1="390.80" y1="375.70" x2="394.40" y2="375.70" stroke="#111" stroke-width="1" />
<text x="390.80" y="378.61" font-size="7.8" text-anchor="end" font-weight="bold" fill="#222" >100</text>
<line x1="394.40" y1="456.70" x2="394.40" y2="459.20" stroke="#111" stroke-width="1" />
<text x="394.50" y="466.60" font-size="8" text-anchor="middle" font-weight="bold" fill="#222" >0</text>
<line x1="420.80" y1="456.70" x2="420.80" y2="459.20" stroke="#111" stroke-width="1" />
<text x="422.50" y="466.60" font-size="8" text-anchor="middle" font-weight="bold" fill="#222" >0.001</text>
<line x1="446.80" y1="456.70" x2="446.80" y2="459.20" stroke="#111" stroke-width="1" />
<text x="449.00" y="466.60" font-size="8" text-anchor="middle" font-weight="bold" fill="#222" >0.01</text>
<line x1="472.90" y1="456.70" x2="472.90" y2="459.20" stroke="#111" stroke-width="1" />
<text x="473.50" y="466.60" font-size="8" text-anchor="middle" font-weight="bold" fill="#222" >0.1</text>
<line x1="499.40" y1="456.70" x2="499.40" y2="459.20" stroke="#111" stroke-width="1" />
<text x="498.90" y="466.60" font-size="8" text-anchor="middle" font-weight="bold" fill="#222" >1</text>
<line x1="394.40" y1="371.50" x2="394.40" y2="457.60" stroke="#111" stroke-width="1.6" />
<line x1="381.00" y1="456.70" x2="511.20" y2="456.70" stroke="#111" stroke-width="1.8" />
<line x1="394.40" y1="425.92" x2="394.40" y2="413.77" stroke="#444444" stroke-width="1" />
<line x1="391.90" y1="425.92" x2="396.90" y2="425.92" stroke="#444444" stroke-width="1" />
<line x1="391.90" y1="413.77" x2="396.90" y2="413.77" stroke="#444444" stroke-width="1" />
<line x1="420.80" y1="408.50" x2="420.80" y2="392.30" stroke="#444444" stroke-width="1" />
<line x1="418.30" y1="408.50" x2="423.30" y2="408.50" stroke="#444444" stroke-width="1" />
<line x1="418.30" y1="392.30" x2="423.30" y2="392.30" stroke="#444444" stroke-width="1" />
<line x1="446.80" y1="404.45" x2="446.80" y2="391.90" stroke="#444444" stroke-width="1" />
<line x1="444.30" y1="404.45" x2="449.30" y2="404.45" stroke="#444444" stroke-width="1" />
<line x1="444.30" y1="391.90" x2="449.30" y2="391.90" stroke="#444444" stroke-width="1" />
<line x1="472.90" y1="396.27" x2="472.90" y2="384.20" stroke="#444444" stroke-width="1" />
<line x1="470.40" y1="396.27" x2="475.40" y2="396.27" stroke="#444444" stroke-width="1" />
<line x1="470.40" y1="384.20" x2="475.40" y2="384.20" stroke="#444444" stroke-width="1" />
<line x1="499.40" y1="390.28" x2="499.40" y2="380.56" stroke="#444444" stroke-width="1" />
<line x1="496.90" y1="390.28" x2="501.90" y2="390.28" stroke="#444444" stroke-width="1" />
<line x1="496.90" y1="380.56" x2="501.90" y2="380.56" stroke="#444444" stroke-width="1" />
<path d="M394.40,420.25 L420.80,400.00 L446.80,397.57 L472.90,390.28 L499.40,385.42" fill="none" stroke="#121212" stroke-width="2" stroke-linejoin="round" stroke-dasharray="5.8,2.2"/>
<line x1="394.40" y1="425.92" x2="394.40" y2="413.77" stroke="#444444" stroke-width="1" />
<line x1="391.90" y1="425.92" x2="396.90" y2="425.92" stroke="#444444" stroke-width="1" />
<line x1="391.90" y1="413.77" x2="396.90" y2="413.77" stroke="#444444" stroke-width="1" />
<line x1="420.80" y1="408.50" x2="420.80" y2="392.30" stroke="#444444" stroke-width="1" />
<line x1="418.30" y1="408.50" x2="423.30" y2="408.50" stroke="#444444" stroke-width="1" />
<line x1="418.30" y1="392.30" x2="423.30" y2="392.30" stroke="#444444" stroke-width="1" />
<line x1="446.80" y1="404.45" x2="446.80" y2="391.90" stroke="#444444" stroke-width="1" />
<line x1="444.30" y1="404.45" x2="449.30" y2="404.45" stroke="#444444" stroke-width="1" />
<line x1="444.30" y1="391.90" x2="449.30" y2="391.90" stroke="#444444" stroke-width="1" />
<line x1="472.90" y1="396.27" x2="472.90" y2="384.20" stroke="#444444" stroke-width="1" />
<line x1="470.40" y1="396.27" x2="475.40" y2="396.27" stroke="#444444" stroke-width="1" />
<line x1="470.40" y1="384.20" x2="475.40" y2="384.20" stroke="#444444" stroke-width="1" />
<line x1="499.40" y1="385.42" x2="499.40" y2="376.67" stroke="#444444" stroke-width="1" />
<line x1="496.90" y1="385.42" x2="501.90" y2="385.42" stroke="#444444" stroke-width="1" />
<line x1="496.90" y1="376.67" x2="501.90" y2="376.67" stroke="#444444" stroke-width="1" />
<path d="M394.40,420.25 L420.80,400.40 L446.80,398.38 L472.90,390.28 L499.40,380.15" fill="none" stroke="#121212" stroke-width="2.1" stroke-linejoin="round" />
<rect x="392.60" y="418.45" width="3.60" height="3.60" fill="#121212"/>
<rect x="419.00" y="398.60" width="3.60" height="3.60" fill="#121212"/>
<rect x="445.00" y="396.58" width="3.60" height="3.60" fill="#121212"/>
<rect x="471.10" y="388.48" width="3.60" height="3.60" fill="#121212"/>
<rect x="497.60" y="378.35" width="3.60" height="3.60" fill="#121212"/>
<text x="447.50" y="479.80" font-size="13.1" text-anchor="middle" font-weight="bold" fill="#000" >IL-3 ng/ml</text>
<text x="0" y="0" font-size="9.5" font-weight="bold" text-anchor="middle" fill="#000" transform="translate(371.70,411.60) rotate(-90)">% maximal growth</text>
<rect x="200" y="370" width="12.0" height="92" fill="#fff"/>
<text x="1.60" y="16.90" font-size="17.6" text-anchor="start" font-weight="bold" fill="#000" >A</text>
<text x="1.40" y="352.60" font-size="17.6" text-anchor="start" font-weight="bold" fill="#000" >B</text>
<text x="0" y="0" font-size="13" font-weight="bold" text-anchor="middle" fill="#000" transform="translate(29.3,91) rotate(-90)">% of Maximal Growth</text>
</svg>
</body></html>
